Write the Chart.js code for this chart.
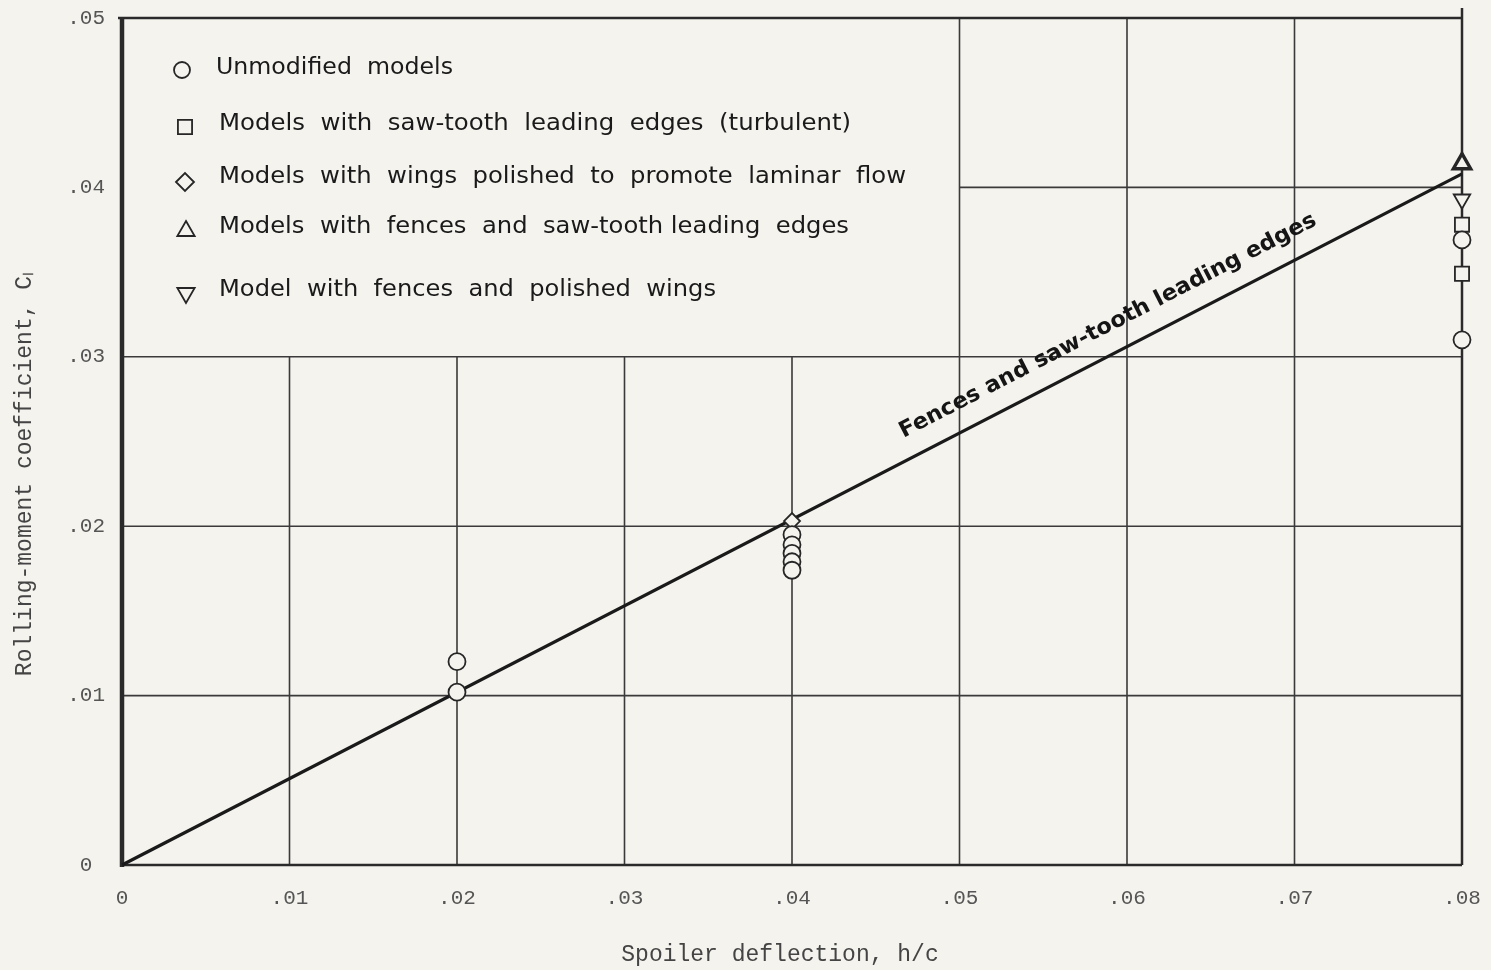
<!DOCTYPE html>
<html>
<head>
<meta charset="utf-8">
<script src="https://cdn.jsdelivr.net/npm/chart.js@4.4.0/dist/chart.umd.min.js"></script>
<style>
  html, body { margin: 0; padding: 0; background: #f4f3ee; }
  canvas { display: block; }
</style>
</head>
<body>
<canvas id="chart" width="1491" height="970"></canvas>
<script>
// Axis ticks
const xTicks = [0, 0.01, 0.02, 0.03, 0.04, 0.05, 0.06, 0.07, 0.08];
const xTickLabels = ['0', '.01', '.02', '.03', '.04', '.05', '.06', '.07', '.08'];
const yTicks = [0, 0.01, 0.02, 0.03, 0.04, 0.05];
const yTickLabels = ['0', '.01', '.02', '.03', '.04', '.05'];

// Test points
const unmodifiedX = [0.02, 0.02, 0.04, 0.04, 0.04, 0.04, 0.04, 0.08, 0.08, 0.0803];
const unmodifiedY = [0.0102, 0.0120, 0.0195, 0.0189, 0.0184, 0.0179, 0.0174, 0.0369, 0.0310, 0.0311];
const sawToothX = [0.08, 0.08];
const sawToothY = [0.0378, 0.0349];
const polishedX = [0.04];
const polishedY = [0.0203];
const fenceSawX = [0.08];
const fenceSawY = [0.0414];
const fencePolishedX = [0.08];
const fencePolishedY = [0.0393];

// Faired line for fences + saw-tooth leading edges
const fairedX = [0, 0.08];
const fairedY = [0, 0.0408];

const legendLabels = [
    'Unmodified  models',
    'Models  with  saw-tooth  leading  edges  (turbulent)',
    'Models  with  wings  polished  to  promote  laminar  flow',
    'Models  with  fences  and  saw-tooth leading  edges',
    'Model  with  fences  and  polished  wings'
];
const lineLabel = 'Fences and saw-tooth leading edges';
const xTitle = 'Spoiler deflection, h/c';
const yTitle = 'Rolling-moment coefficient, C\u2097';

const paper = '#f4f3ee';
const ink = '#262626';

function toPoints(xs, ys) {
    return xs.map((x, i) => ({ x: x, y: ys[i] }));
}

function drawFitted(ctx, text, x, y, width) {
    const w = ctx.measureText(text).width;
    ctx.save();
    ctx.translate(x, y);
    ctx.scale(width / w, 1);
    ctx.fillText(text, 0, 0);
    ctx.restore();
}

// Grid lines and frame (grid is left open where the key sits)
const gridPlugin = {
    id: 'paperGrid',
    beforeDatasetsDraw(chart) {
        const ctx = chart.ctx;
        const xs = chart.scales.x, ys = chart.scales.y;
        const y0 = ys.getPixelForValue(0), yTop = ys.getPixelForValue(0.05);
        const x0 = xs.getPixelForValue(0), xEnd = xs.getPixelForValue(0.08);
        ctx.save();
        ctx.strokeStyle = '#3a3a3a';
        ctx.lineWidth = 1.6;
        ctx.beginPath();
        xTicks.slice(1, -1).forEach(v => {
            const px = xs.getPixelForValue(v);
            const top = v < 0.05 ? ys.getPixelForValue(0.03) : yTop;
            ctx.moveTo(px, y0);
            ctx.lineTo(px, top);
        });
        yTicks.slice(1, -1).forEach(v => {
            const py = ys.getPixelForValue(v);
            const left = v > 0.03 ? xs.getPixelForValue(0.05) : x0;
            ctx.moveTo(left, py);
            ctx.lineTo(xEnd, py);
        });
        ctx.stroke();

        // frame
        ctx.strokeStyle = '#2a2a2a';
        ctx.lineWidth = 2.5;
        ctx.beginPath();
        ctx.moveTo(x0 - 4, yTop);
        ctx.lineTo(xEnd, yTop);
        ctx.moveTo(xEnd, yTop - 10);
        ctx.lineTo(xEnd, y0);
        ctx.moveTo(x0, y0);
        ctx.lineTo(xEnd, y0);
        ctx.stroke();
        ctx.lineWidth = 4.5;
        ctx.beginPath();
        ctx.moveTo(x0, yTop);
        ctx.lineTo(x0, y0 + 2);
        ctx.stroke();
        ctx.restore();
    }
};

// Key, line label and axis titles
const textPlugin = {
    id: 'paperText',
    afterDatasetsDraw(chart) {
        const ctx = chart.ctx;
        const xs = chart.scales.x, ys = chart.scales.y;
        ctx.save();

        // key
        const rows = [
            { style: 'circle', r: 8, rot: 0, mx: 182, my: 70, tx: 216, ty: 68, w: 237 },
            { style: 'rect', r: 10, rot: 0, mx: 185, my: 127, tx: 219, ty: 124, w: 632 },
            { style: 'rectRot', r: 9, rot: 0, mx: 185, my: 182, tx: 219, ty: 177, w: 687 },
            { style: 'triangle', r: 10, rot: 0, mx: 186, my: 231, tx: 219, ty: 227, w: 630 },
            { style: 'triangle', r: 10, rot: 180, mx: 186, my: 293, tx: 219, ty: 290, w: 497 }
        ];
        ctx.strokeStyle = ink;
        ctx.lineWidth = 1.8;
        rows.forEach(row => {
            ctx.fillStyle = paper;
            Chart.helpers.drawPoint(ctx, { pointStyle: row.style, radius: row.r, rotation: row.rot, borderWidth: 1.8 }, row.mx, row.my);
        });
        ctx.fillStyle = '#1a1a1a';
        ctx.font = '500 23px "DejaVu Sans"';
        ctx.textBaseline = 'middle';
        ctx.textAlign = 'left';
        rows.forEach((row, i) => drawFitted(ctx, legendLabels[i], row.tx, row.ty, row.w));

        // label along the faired line
        const ax = xs.getPixelForValue(fairedX[0]), ay = ys.getPixelForValue(fairedY[0]);
        const bx = xs.getPixelForValue(fairedX[1]), by = ys.getPixelForValue(fairedY[1]);
        const ang = Math.atan2(by - ay, bx - ax);
        const t = 0.0596 / fairedX[1];
        const px = ax + (bx - ax) * t, py = ay + (by - ay) * t;
        const off = 27;
        ctx.translate(px + off * Math.sin(ang), py - off * Math.cos(ang));
        ctx.rotate(ang);
        ctx.font = 'bold 22px "DejaVu Sans"';
        ctx.textAlign = 'left';
        ctx.fillStyle = '#151515';
        drawFitted(ctx, lineLabel, -233, 0, 466);
        ctx.setTransform(1, 0, 0, 1, 0, 0);

        // axis titles
        ctx.font = '23px "Liberation Mono"';
        ctx.fillStyle = '#444';
        ctx.textAlign = 'center';
        ctx.fillText(xTitle, 780, 955);
        ctx.translate(25, 474);
        ctx.rotate(-Math.PI / 2);
        ctx.fillText(yTitle, 0, 0);
        ctx.restore();
    }
};

function markerSet(label, xs, ys, style, radius, extra) {
    return Object.assign({
        label: label,
        data: toPoints(xs, ys),
        showLine: false,
        pointStyle: style,
        pointRadius: radius,
        pointBorderWidth: 1.8,
        pointBorderColor: ink,
        pointBackgroundColor: paper,
        clip: false,
        order: 1
    }, extra || {});
}

const ctx = document.getElementById('chart').getContext('2d');
new Chart(ctx, {
    type: 'scatter',
    data: {
        datasets: [
            {
                label: 'faired',
                data: toPoints(fairedX, fairedY),
                showLine: true,
                borderColor: '#1a1a1a',
                borderWidth: 3.2,
                pointRadius: 0,
                clip: false,
                order: 5
            },
            markerSet(legendLabels[0], unmodifiedX, unmodifiedY, 'circle', 8.5),
            markerSet(legendLabels[1], sawToothX, sawToothY, 'rect', 10),
            markerSet(legendLabels[2], polishedX, polishedY, 'rectRot', 8),
            markerSet(legendLabels[3], fenceSawX, fenceSawY, 'triangle', 10, { pointBorderWidth: 3.4 }),
            markerSet(legendLabels[4], fencePolishedX, fencePolishedY, 'triangle', 9.5, { rotation: 180 })
        ]
    },
    options: {
        responsive: false,
        animation: false,
        events: [],
        layout: { padding: { top: 18, right: 29, left: 0, bottom: 0 } },
        plugins: {
            legend: { display: false },
            tooltip: { enabled: false }
        },
        scales: {
            x: {
                type: 'linear',
                min: 0,
                max: 0.08,
                grid: { display: false, drawTicks: false },
                border: { display: false },
                afterBuildTicks: scale => { scale.ticks = xTicks.map(v => ({ value: v })); },
                afterFit: scale => {
                    scale.height = 105;
                    scale.paddingLeft = 0;
                    scale.paddingRight = 0;
                },
                ticks: {
                    padding: 21,
                    color: '#555',
                    font: { family: '"Liberation Mono"', size: 21 },
                    callback: (v, i) => xTickLabels[i]
                }
            },
            y: {
                type: 'linear',
                min: 0,
                max: 0.05,
                grid: { display: false, drawTicks: false },
                border: { display: false },
                afterBuildTicks: scale => { scale.ticks = yTicks.map(v => ({ value: v })); },
                afterFit: scale => {
                    scale.width = 122;
                    scale.paddingTop = 0;
                    scale.paddingBottom = 0;
                },
                ticks: {
                    padding: 17,
                    crossAlign: 'center',
                    color: '#555',
                    font: { family: '"Liberation Mono"', size: 21 },
                    callback: (v, i) => yTickLabels[i]
                }
            }
        }
    },
    plugins: [gridPlugin, textPlugin]
});
</script>
</body>
</html>
